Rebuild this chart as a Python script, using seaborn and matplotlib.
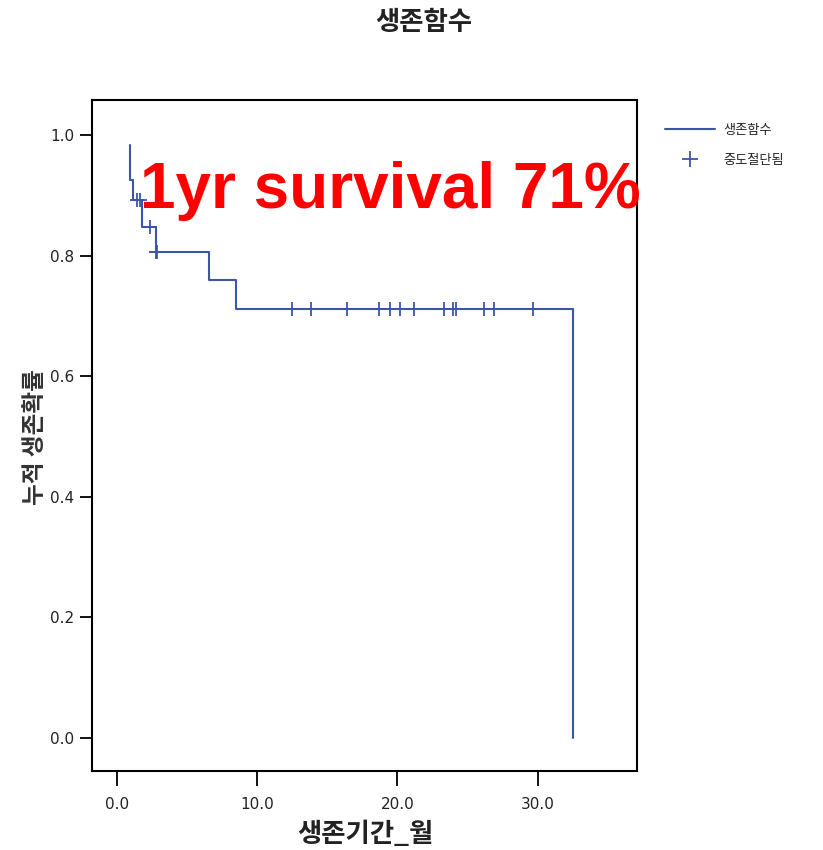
import matplotlib
matplotlib.use("Agg")
import matplotlib.pyplot as plt
import seaborn as sns
import pandas as pd
from matplotlib.lines import Line2D

# Kaplan-Meier step curve (drawn with steps-post)
step_time = [0.9, 0.9, 1.1, 1.75, 2.8, 6.55, 8.5, 32.5]
step_surv = [0.983, 0.925, 0.892, 0.848, 0.806, 0.760, 0.711, 0.0]

# Censored observations
cens_time = [1.4, 1.6, 2.35, 2.75, 2.85, 12.5, 13.8, 16.4, 18.7, 19.5, 20.2, 21.2,
             23.3, 24.0, 24.2, 26.2, 26.9, 29.7]
cens_surv = [0.892, 0.892, 0.848, 0.806, 0.806, 0.711, 0.711, 0.711, 0.711, 0.711,
             0.711, 0.711, 0.711, 0.711, 0.711, 0.711, 0.711, 0.711]

x_ticks = [0, 10, 20, 30]
y_ticks = [0.0, 0.2, 0.4, 0.6, 0.8, 1.0]

title = "생존함수"
xlabel = "생존기간_월"
ylabel = "누적 생존확률"
legend_labels = ["생존함수", "중도절단됨"]
annotation = "1yr survival 71%"

sns.set_style("white")
plt.rcParams['font.family'] = ['Noto Sans CJK KR', 'DejaVu Sans']

fig = plt.figure(figsize=(8.23, 8.5), dpi=100)
ax = fig.add_axes([92/823, 1-771/850, (637-92)/823, (771-100)/850])

blue = "#3d55a9"
curve = pd.DataFrame({"t": step_time, "s": step_surv})
cens = pd.DataFrame({"t": cens_time, "s": cens_surv})

sns.lineplot(data=curve, x="t", y="s", estimator=None, sort=False,
             drawstyle="steps-post", color=blue, linewidth=1.5, ax=ax)
sns.scatterplot(data=cens, x="t", y="s", marker="+", s=90, color=blue,
                linewidth=1.3, ax=ax, zorder=3)

ax.set_xlim(-1.8, 37.1)
ax.set_ylim(-0.055, 1.058)
ax.set_xticks(x_ticks)
ax.set_xticklabels([f"{v:.1f}" for v in x_ticks], family=['DejaVu Sans'])
ax.set_yticks(y_ticks)
ax.set_yticklabels([f"{v:.1f}" for v in y_ticks], family=['DejaVu Sans'])
ax.tick_params(axis='both', direction='out', length=9, width=1.3, colors='black',
               labelsize=11, pad=4, labelcolor='#222222', bottom=True, left=True)
ax.tick_params(axis='x', pad=8, length=11)
for sp in ax.spines.values():
    sp.set_visible(True)
    sp.set_color('black')
    sp.set_linewidth(1.5)

ax.set_xlabel("")
ax.set_ylabel("")
fig.text(365/823, 1-835/850, xlabel, ha='center', va='center', fontsize=19, fontweight='bold',
         color='#222222')
fig.text(35/823, 1-437/850, ylabel, ha='center', va='center', rotation=90,
         fontsize=17, fontweight='bold', color='#333333')
fig.text(424/823, 1-22/850, title, ha='center', va='center', fontsize=19, fontweight='bold',
         color='#222222')

fig.text(140/823, 1-208/850, annotation, ha='left', va='baseline', fontsize=46,
         fontweight='bold', color='#ff0000', family=['Liberation Sans', 'DejaVu Sans'])

handles = [Line2D([0], [0], color=blue, lw=1.5),
           Line2D([0], [0], color=blue, marker='+', lw=0, markersize=12, markeredgewidth=1.3)]
fig.legend(handles, legend_labels, loc='upper left', bbox_to_anchor=(653/823, 1-112/850),
           frameon=False, fontsize=9.5, handlelength=3.8, labelspacing=1.3,
           handletextpad=0.6)

fig.savefig("out.png", dpi=100, facecolor='white')
